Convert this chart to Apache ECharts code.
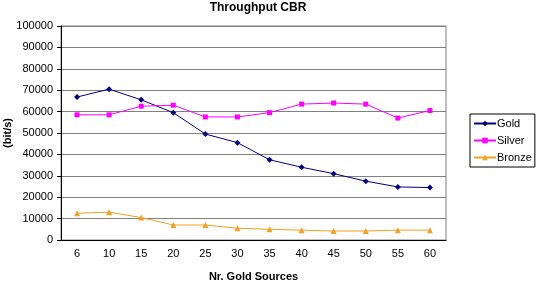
<!DOCTYPE html>
<html>
<head>
<meta charset="utf-8">
<script src="https://cdn.jsdelivr.net/npm/echarts@6/dist/echarts.min.js"></script>
<style>
  html, body { margin: 0; padding: 0; background: #fff; }
  #chart { width: 538px; height: 284px; }
</style>
</head>
<body>
<div id="chart"></div>
<script>
// x categories (number of gold sources)
var sources = ['6', '10', '15', '20', '25', '30', '35', '40', '45', '50', '55', '60']
// throughput in bit/s
var gold = [66800, 70500, 65500, 59500, 49500, 45500, 37500, 34000, 31000, 27500, 24800, 24500]
var silver = [58500, 58500, 62500, 63000, 57500, 57500, 59500, 63500, 64000, 63500, 57000, 60500]
var bronze = [12500, 13000, 10500, 7000, 7000, 5500, 5000, 4600, 4200, 4200, 4600, 4600]

var font = 'Liberation Sans, Arial, sans-serif'

let myChart = echarts.init(document.getElementById('chart'))
myChart.setOption({
  animation: false,
  backgroundColor: '#fff',
  textStyle: { fontFamily: font },
  title: {
    text: 'Throughput CBR',
    left: 253,
    textAlign: 'center',
    top: -3,
    textStyle: { fontSize: 12, fontWeight: 'bold', color: '#000', fontFamily: font }
  },
  legend: {
    orient: 'vertical',
    left: 470,
    top: 114,
    itemWidth: 22,
    itemHeight: 7,
    itemGap: 6,
    padding: [4, 3, 4, 3],
    borderColor: '#000',
    borderWidth: 1,
    textStyle: { fontSize: 11, color: '#000', fontFamily: font, padding: [0, 0, 0, -4] },
    data: ['Gold', 'Silver', 'Bronze']
  },
  grid: {
    left: 61,
    right: 92,
    top: 26,
    bottom: 44,
    containLabel: false,
    outerBoundsMode: 'none',
    show: true,
    borderColor: '#808080',
    borderWidth: 1
  },
  xAxis: {
    type: 'category',
    data: sources,
    boundaryGap: true,
    name: 'Nr. Gold Sources',
    nameLocation: 'middle',
    nameGap: 31,
    nameMoveOverlap: false,
    nameTextStyle: { fontSize: 11, fontWeight: 'bold', color: '#000', fontFamily: font },
    axisLine: { lineStyle: { color: '#000' } },
    axisTick: { alignWithLabel: false, length: 4, lineStyle: { color: '#000' } },
    axisLabel: { fontSize: 11, color: '#000', margin: 8, fontFamily: font }
  },
  yAxis: {
    type: 'value',
    min: 0,
    max: 100000,
    interval: 10000,
    name: '(bit/s)',
    nameLocation: 'middle',
    nameRotate: 90,
    nameGap: 48,
    nameMoveOverlap: false,
    nameTextStyle: { fontSize: 11, fontWeight: 'bold', color: '#000', fontFamily: font },
    axisLine: { show: true, lineStyle: { color: '#000' } },
    axisTick: { show: true, length: 4, lineStyle: { color: '#000' } },
    axisLabel: {
      fontSize: 11, color: '#000', margin: 8, fontFamily: font,
      formatter: function (v) { return String(v) }
    },
    splitLine: { lineStyle: { color: '#808080', width: 1 } }
  },
  series: [
    {
      name: 'Gold',
      type: 'line',
      data: gold,
      color: '#000080',
      symbol: 'diamond',
      symbolSize: 6,
      lineStyle: { width: 1 }
    },
    {
      name: 'Silver',
      type: 'line',
      data: silver,
      color: '#FF00FF',
      symbol: 'rect',
      symbolSize: 5,
      lineStyle: { width: 1 }
    },
    {
      name: 'Bronze',
      type: 'line',
      data: bronze,
      color: '#F5A020',
      symbol: 'triangle',
      symbolSize: 6,
      lineStyle: { width: 1 }
    }
  ]
});
</script>
</body>
</html>
